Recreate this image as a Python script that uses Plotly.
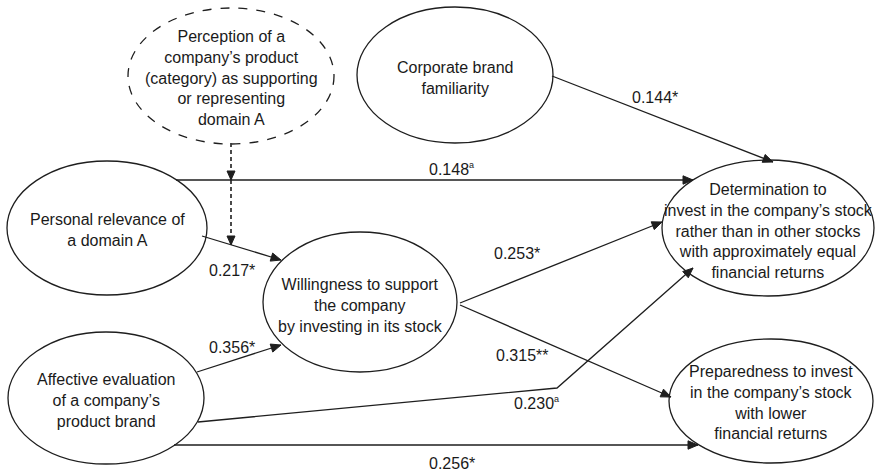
import math
import plotly.graph_objects as go

W, H = 878, 472

# --- content (labels / coefficients) ---
node_names = ["perc", "corp", "pers", "will", "aff", "det", "prep"]
node_texts = [
    "Perception of a<br>company’s product<br>(category) as supporting<br>or representing<br>domain A",
    "Corporate brand<br>familiarity",
    "Personal relevance of<br>a domain A",
    "Willingness to support<br>the company<br>by investing in its stock",
    "Affective evaluation<br>of a company’s<br>product brand",
    "Determination to<br>invest in the company’s stock<br>rather than in other stocks<br>with approximately equal<br>financial returns",
    "Preparedness to invest<br>in the company’s stock<br>with lower<br>financial returns",
]
SUP_A = "<sup><span style='font-size:9px'>a</span></sup>"
edge_labels = ["0.148" + SUP_A, "0.144*", "0.217*", "0.356*",
               "0.253*", "0.315**", "0.230" + SUP_A, "0.256*"]

# --- layout geometry (pixel space) ---
node_geom = {  # cx, cy, rx, ry, dashed, text_y
    "perc": (231, 76, 103, 68, True, 78),
    "corp": (455, 75, 98, 68, False, 78),
    "pers": (107, 228, 100, 67, False, 230),
    "will": (360, 302, 97, 70, False, 305),
    "aff": (106, 398, 98, 66, False, 400),
    "det": (768, 228, 106, 68, False, 231),
    "prep": (771, 401, 102, 62, False, 402),
}
edge_paths = [
    [(176, 180), (693, 180)],
    [(552, 76), (773, 162)],
    [(202, 236), (281, 260)],
    [(197, 372), (281, 345)],
    [(460, 303), (662, 222)],
    [(460, 305), (671, 397)],
    [(198, 422), (557, 388), (693, 268)],
    [(174, 445), (698, 445)],
]
label_pos = [(451, 169), (655, 97), (232, 270), (232, 347),
             (517, 253), (522, 355), (536, 403), (452, 463)]
dashed_paths = [
    [(231, 143), (231, 180)],
    [(231, 180), (231, 245)],
]

LINE = "#1e1e1e"
TXT = "#1a1a1a"
FONT = "Liberation Sans, Arial, sans-serif"
FS = 16

fig = go.Figure()
shapes = []
annotations = []


def arrowhead(p_prev, tip, L=10, w=4.2):
    dx, dy = tip[0] - p_prev[0], tip[1] - p_prev[1]
    n = math.hypot(dx, dy)
    ux, uy = dx / n, dy / n
    bx, by = tip[0] - L * ux, tip[1] - L * uy
    px, py = -uy, ux
    return (f"M {tip[0]},{tip[1]} L {bx + w * px},{by + w * py} "
            f"L {bx - w * px},{by - w * py} Z")


def polyline(pts):
    return "M " + " L ".join(f"{x},{y}" for x, y in pts)


for name, text in zip(node_names, node_texts):
    cx, cy, rx, ry, dashed, ty = node_geom[name]
    shapes.append(dict(type="circle", xref="x", yref="y",
                       x0=cx - rx, x1=cx + rx, y0=cy - ry, y1=cy + ry,
                       line=dict(color=LINE, width=1.3,
                                 dash="dash" if dashed else "solid"),
                       fillcolor="rgba(0,0,0,0)"))
    annotations.append(dict(x=cx, y=ty, xref="x", yref="y", text=text,
                            showarrow=False, align="center",
                            font=dict(family=FONT, size=FS, color=TXT)))

for pts in edge_paths:
    shapes.append(dict(type="path", path=polyline(pts), xref="x", yref="y",
                       line=dict(color=LINE, width=1.3)))
    shapes.append(dict(type="path", path=arrowhead(pts[-2], pts[-1]),
                       xref="x", yref="y", fillcolor=LINE,
                       line=dict(color=LINE, width=1)))

for pts in dashed_paths:
    shapes.append(dict(type="path", path=polyline(pts), xref="x", yref="y",
                       line=dict(color=LINE, width=1.6, dash="4px,3px")))
    shapes.append(dict(type="path", path=arrowhead(pts[-2], pts[-1], L=9, w=4),
                       xref="x", yref="y", fillcolor=LINE,
                       line=dict(color=LINE, width=1)))

for lab, (x, y) in zip(edge_labels, label_pos):
    annotations.append(dict(x=x, y=y, xref="x", yref="y", text=lab,
                            showarrow=False,
                            font=dict(family=FONT, size=FS, color=TXT)))

fig.update_layout(
    width=W, height=H,
    margin=dict(l=0, r=0, t=0, b=0),
    paper_bgcolor="white", plot_bgcolor="white",
    xaxis=dict(range=[0, W], visible=False, fixedrange=True),
    yaxis=dict(range=[H, 0], visible=False, fixedrange=True),
    shapes=shapes, annotations=annotations,
    showlegend=False,
)
fig.write_html("out.html", config={"displayModeBar": False},
               post_script="document.body.style.margin='0px';"
                           "document.body.style.overflow='hidden';")
